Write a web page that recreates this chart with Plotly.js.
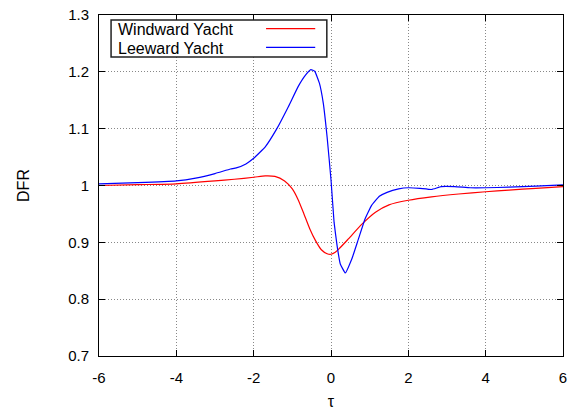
<!DOCTYPE html>
<html>
<head>
<meta charset="utf-8">
<script src="https://cdn.plot.ly/plotly-3.0.1.min.js"></script>
<style>
  html, body { margin: 0; padding: 0; background: #fff; }
  #chart { width: 578px; height: 410px; }
</style>
</head>
<body>
<div id="chart"></div>
<script>
// Series names
var seriesNames = ["Windward Yacht", "Leeward Yacht"];

// Windward yacht (red)
var windX = [-6, -5, -4, -3, -2.5, -2, -1.7, -1.45, -1.2, -1.0, -0.85, -0.7, -0.55, -0.4, -0.25, -0.1, 0, 0.1, 0.2, 0.45, 0.8, 1.15, 1.5, 2.0, 2.6, 3.3, 4.0, 4.6, 5.3, 6.0];
var windY = [1.000, 1.0015, 1.003, 1.008, 1.011, 1.0145, 1.017, 1.016, 1.008, 0.994, 0.975, 0.950, 0.924, 0.903, 0.887, 0.880, 0.879, 0.882, 0.888, 0.906, 0.932, 0.953, 0.966, 0.974, 0.980, 0.985, 0.989, 0.992, 0.995, 0.998];

// Leeward yacht (blue)
var leeX = [-6, -5, -4, -3.5, -3, -2.6, -2.45, -2.2, -2.0, -1.7, -1.4, -1.1, -0.85, -0.65, -0.52, -0.42, -0.3, -0.2, -0.1, 0.0, 0.08, 0.16, 0.24, 0.37, 0.54, 0.71, 0.88, 1.05, 1.25, 1.45, 1.75, 2.0, 2.3, 2.6, 2.85, 3.2, 3.6, 4.0, 4.6, 5.3, 6.0];
var leeY = [1.003, 1.005, 1.008, 1.013, 1.021, 1.029, 1.031, 1.038, 1.048, 1.068, 1.100, 1.139, 1.174, 1.195, 1.204, 1.201, 1.180, 1.145, 1.085, 1.010, 0.935, 0.893, 0.862, 0.846, 0.871, 0.906, 0.941, 0.965, 0.981, 0.988, 0.994, 0.996, 0.995, 0.993, 0.998, 0.998, 0.996, 0.996, 0.997, 0.999, 1.001];

// Tick values / labels
var xTicks = [-6, -4, -2, 0, 2, 4, 6];
var xTickLabels = ["-6", "-4", "-2", "0", "2", "4", "6"];
var yTicks = [0.7, 0.8, 0.9, 1.0, 1.1, 1.2, 1.3];
var yTickLabels = ["0.7", "0.8", "0.9", "1", "1.1", "1.2", "1.3"];

var colors = ["#ff0000", "#0000ff"];
var FONT = "Liberation Sans, Arial, sans-serif";

var traces = [
  { x: windX, y: windY, mode: "lines", name: seriesNames[0],
    line: { color: colors[0], width: 1.2, shape: "spline", smoothing: 0.6 }, showlegend: false },
  { x: leeX, y: leeY, mode: "lines", name: seriesNames[1],
    line: { color: colors[1], width: 1.2, shape: "spline", smoothing: 0.3 }, showlegend: false }
];

var axisCommon = {
  showline: true, linecolor: "#000", linewidth: 1, mirror: "ticks",
  ticks: "inside", ticklen: 6, tickcolor: "#000", tickwidth: 1,
  showgrid: true, gridcolor: "#888", griddash: "1px,2px", gridwidth: 1,
  zeroline: false, tickfont: { family: FONT, size: 15, color: "#000" }
};

var layout = {
  width: 578, height: 410,
  margin: { l: 99, r: 15, t: 15, b: 54 },
  paper_bgcolor: "#fff", plot_bgcolor: "#fff",
  font: { family: FONT, color: "#000" },
  xaxis: Object.assign({}, axisCommon, {
    range: [-6, 6], tickvals: xTicks, ticktext: xTickLabels, ticklabelstandoff: 8,
    title: { text: "τ", font: { family: FONT, size: 16 }, standoff: 11 }
  }),
  yaxis: Object.assign({}, axisCommon, {
    range: [0.7, 1.3], tickvals: yTicks, ticktext: yTickLabels, ticklabelstandoff: 6,
    title: { text: "DFR", font: { family: FONT, size: 16 }, standoff: 34 }
  }),
  shapes: [
    { type: "rect", xref: "paper", yref: "paper", x0: 0.026, x1: 0.491, y0: 0.877, y1: 0.985,
      fillcolor: "#fff", line: { color: "#222", width: 1.5 }, layer: "above" },
    { type: "line", xref: "paper", yref: "paper", x0: 0.360, x1: 0.466, y0: 0.960, y1: 0.960,
      line: { color: colors[0], width: 1.2 }, layer: "above" },
    { type: "line", xref: "paper", yref: "paper", x0: 0.360, x1: 0.466, y0: 0.905, y1: 0.905,
      line: { color: colors[1], width: 1.2 }, layer: "above" }
  ],
  annotations: [
    { xref: "paper", yref: "paper", x: 0.037, y: 0.958, xanchor: "left", yanchor: "middle",
      text: seriesNames[0], showarrow: false, font: { family: FONT, size: 16, color: "#000" } },
    { xref: "paper", yref: "paper", x: 0.037, y: 0.902, xanchor: "left", yanchor: "middle",
      text: seriesNames[1], showarrow: false, font: { family: FONT, size: 16, color: "#000" } }
  ]
};

Plotly.newPlot("chart", traces, layout, { staticPlot: true, displayModeBar: false });
</script>
</body>
</html>
